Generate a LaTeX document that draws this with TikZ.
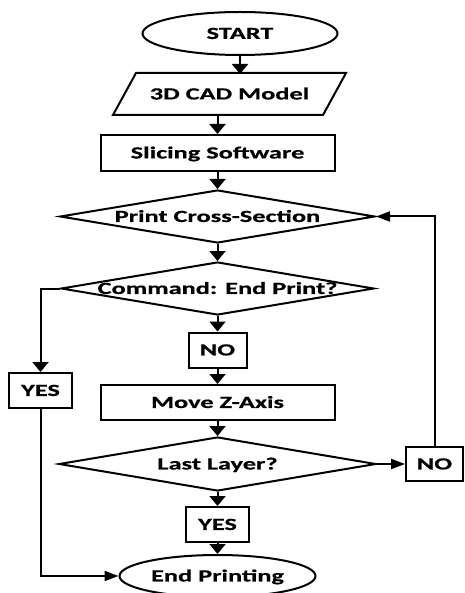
\documentclass[tikz,border=0pt]{standalone}
\usepackage{fontspec}
\newfontfamily\flowfont[FakeStretch=1.55,BoldFeatures={FakeBold=0.6}]{Carlito}
\usetikzlibrary{shapes.geometric,arrows.meta}
\newcommand{\tx}[1]{\makebox[0pt]{#1}}
\begin{document}
\begin{tikzpicture}[x=1pt,y=-1pt,
  base/.style={draw, line width=2pt, inner sep=0pt, text height=10.9pt, text depth=0pt,
    font=\flowfont\bfseries\fontsize{17}{20}\selectfont},
  term/.style={base, ellipse},
  proc/.style={base, rectangle},
  dec/.style={base, diamond, aspect=1},
  io/.style={base, draw=none, rectangle},
  outline/.style={line width=2pt, line join=miter},
  vconn/.style={line width=2pt, -{Triangle[length=10pt,width=16pt]}},
  hconn/.style={line width=2pt, -{Triangle[length=14pt,width=10pt]}}
]
\useasboundingbox (0,0) rectangle (464,593);
\node[term, minimum width=195pt, minimum height=43pt] (start) at (240,33.5) {\tx{START}};
\node[io, minimum width=208pt, minimum height=40pt] (cad) at (229.5,94) {\tx{3D CAD Model}};
\draw[outline] ([xshift=11.5pt]cad.north west) -- ([xshift=11.5pt]cad.north east)
  -- ([xshift=-11.5pt]cad.south east) -- ([xshift=-11.5pt]cad.south west) -- cycle;
\node[proc, minimum width=234pt, minimum height=36pt] (slice) at (217.5,153) {\tx{Slicing Software}};
\node[dec, minimum width=315pt, minimum height=53pt] (pcs) at (217.5,216.5) {\tx{Print Cross-Section}};
\node[dec, minimum width=313pt, minimum height=53pt] (cmd) at (217.5,288.5) {\tx{Command: End Print?}};
\node[proc, minimum width=58pt, minimum height=35pt] (no1) at (217.5,350) {\tx{NO}};
\node[proc, minimum width=63pt, minimum height=35pt] (yes1) at (40.5,390.5) {\tx{YES}};
\node[proc, minimum width=234pt, minimum height=35pt] (move) at (217.5,402.5) {\tx{Move Z-Axis}};
\node[dec, minimum width=317pt, minimum height=54pt] (last) at (217.5,464) {\tx{Last Layer?}};
\node[proc, minimum width=57pt, minimum height=34pt] (no2) at (434.5,464) {\tx{NO}};
\node[proc, minimum width=63pt, minimum height=35pt] (yes2) at (217.5,524.5) {\tx{YES}};
\node[term, minimum width=196pt, minimum height=42pt] (endp) at (217.5,576) {\tx{End Printing}};

\draw[vconn] (start.south) -- ([yshift=-1pt]start.south |- cad.north);
\draw[vconn] (cad.south -| slice.north) -- (slice.north);
\draw[vconn] (slice.south) -- (pcs.north);
\draw[vconn] (pcs.south) -- (cmd.north);
\draw[vconn] (cmd.south) -- (no1.north);
\draw[vconn] (no1.south) -- (move.north);
\draw[vconn] (move.south) -- (last.north);
\draw[vconn] (last.south) -- (yes2.north);
\draw[vconn] (yes2.south) -- (endp.north);
\draw[vconn] (cmd.west) -| (yes1.north);
\draw[hconn] (yes1.south) |- (endp.west);
\draw[hconn] (last.east) -- (no2.west);
\draw[hconn] (no2.north) |- (pcs.east);
\end{tikzpicture}
\end{document}
